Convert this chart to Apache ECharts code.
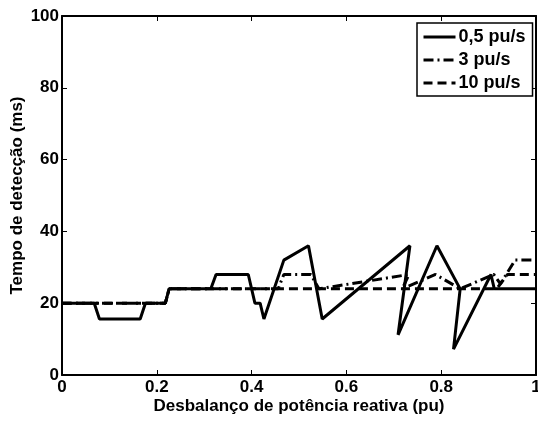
<!DOCTYPE html>
<html>
<head>
<meta charset="utf-8">
<script src="https://cdn.jsdelivr.net/npm/echarts@6/dist/echarts.min.js"></script>
<style>
	html, body { margin: 0; padding: 0; background: #fff; }
	#chart { width: 538px; height: 421px; }
</style>
</head>
<body>
<div id="chart"></div>
<script>
// dados
var names = ['0,5 pu/s', '3 pu/s', '10 pu/s'];
var x05 = [0, 0.068, 0.079, 0.165, 0.176, 0.218, 0.226, 0.314, 0.325, 0.393, 0.407, 0.418, 0.426, 0.468, 0.52, 0.549, 0.734, 0.709, 0.791, 0.840, 0.826, 0.905, 0.912, 1];
var y05 = [20, 20, 15.6, 15.6, 20, 20, 24, 24, 28, 28, 20, 20, 15.6, 32, 36, 15.6, 36, 11.2, 36, 24, 7.2, 28, 24, 24];
var x3 = [0, 0.218, 0.226, 0.456, 0.468, 0.525, 0.542, 0.732, 0.718, 0.788, 0.840, 0.911, 0.925, 0.956, 1];
var y3 = [20, 20, 24, 24, 28, 28, 24, 28, 24, 28, 24, 28, 25.4, 32, 32];
var x10 = [0, 0.218, 0.226, 0.917, 0.94, 1];
var y10 = [20, 20, 24, 24, 28, 28];
var xTicks = [0, 0.2, 0.4, 0.6, 0.8, 1];
var yTicks = [0, 20, 40, 60, 80, 100];

function pares(xs, ys) {
	var out = [];
	for (var i = 0; i < xs.length; i++) {
		out.push([xs[i], ys[i]]);
	}
	return out;
}

var fonte = 'Liberation Sans, Arial, sans-serif';
var txt = { color: '#000', fontWeight: 'bold', fontSize: 17, fontFamily: fonte };

function eixo(extra) {
	var base = {
		type: 'value',
		axisLine: { show: true, onZero: false, lineStyle: { color: '#000', width: 2 } },
		axisTick: { show: true, inside: true, length: 5, lineStyle: { color: '#000', width: 1 } },
		splitLine: { show: false },
		axisLabel: { show: false }
	};
	for (var k in extra) base[k] = extra[k];
	return base;
}

var option = {
	animation: false,
	backgroundColor: '#fff',
	grid: { left: 62, right: 2, top: 16, bottom: 46, containLabel: false, outerBoundsMode: 'none' },
	legend: {
		data: names,
		orient: 'vertical',
		left: 417,
		top: 23,
		itemWidth: 32,
		itemHeight: 14,
		itemGap: 5,
		padding: [5, 7, 4, 5],
		borderColor: '#000',
		borderWidth: 1.5,
		backgroundColor: '#fff',
		borderRadius: 0,
		itemStyle: { opacity: 0 },
		lineStyle: { width: 3 },
		textStyle: { color: '#000', fontWeight: 'bold', fontSize: 18, fontFamily: fonte, padding: [0, 0, 0, -2] }
	},
	xAxis: [
		eixo({
			min: 0, max: 1, interval: 0.2,
			axisLabel: {
				show: true, margin: 4, color: '#000', fontWeight: 'bold', fontSize: 17, fontFamily: fonte,
				formatter: function(v) { return xTicks.indexOf(v) >= 0 ? String(v) : ''; }
			},
			name: 'Desbalanço de potência reativa (pu)',
			nameLocation: 'middle',
			nameGap: 23,
			nameMoveOverlap: false,
			nameTextStyle: txt
		}),
		eixo({ min: 0, max: 1, interval: 0.2, position: 'top' })
	],
	yAxis: [
		eixo({
			min: 0, max: 100, interval: 20,
			axisLabel: {
				show: true, margin: 3, color: '#000', fontWeight: 'bold', fontSize: 17, fontFamily: fonte,
				formatter: function(v) { return yTicks.indexOf(v) >= 0 ? String(v) : ''; }
			},
			name: 'Tempo de detecção (ms)',
			nameLocation: 'middle',
			nameGap: 36,
			nameMoveOverlap: false,
			nameTextStyle: txt
		}),
		eixo({ min: 0, max: 100, interval: 20, position: 'right' })
	],
	series: [{
		name: names[0],
		type: 'line',
		data: pares(x05, y05),
		symbol: 'none',
		z: 4,
		lineStyle: { color: '#000', width: 3, type: 'solid' },
		itemStyle: { color: '#000' }
	}, {
		name: names[1],
		type: 'line',
		data: pares(x3, y3),
		symbol: 'none',
		z: 3,
		lineStyle: { color: '#000', width: 3, type: [10, 4, 2, 4] },
		itemStyle: { color: '#000' }
	}, {
		name: names[2],
		type: 'line',
		data: pares(x10, y10),
		symbol: 'none',
		z: 2,
		lineStyle: { color: '#000', width: 3, type: [9, 5] },
		itemStyle: { color: '#000' }
	}]
};

var chart = echarts.init(document.getElementById('chart'));
chart.setOption(option);
</script>
</body>
</html>
